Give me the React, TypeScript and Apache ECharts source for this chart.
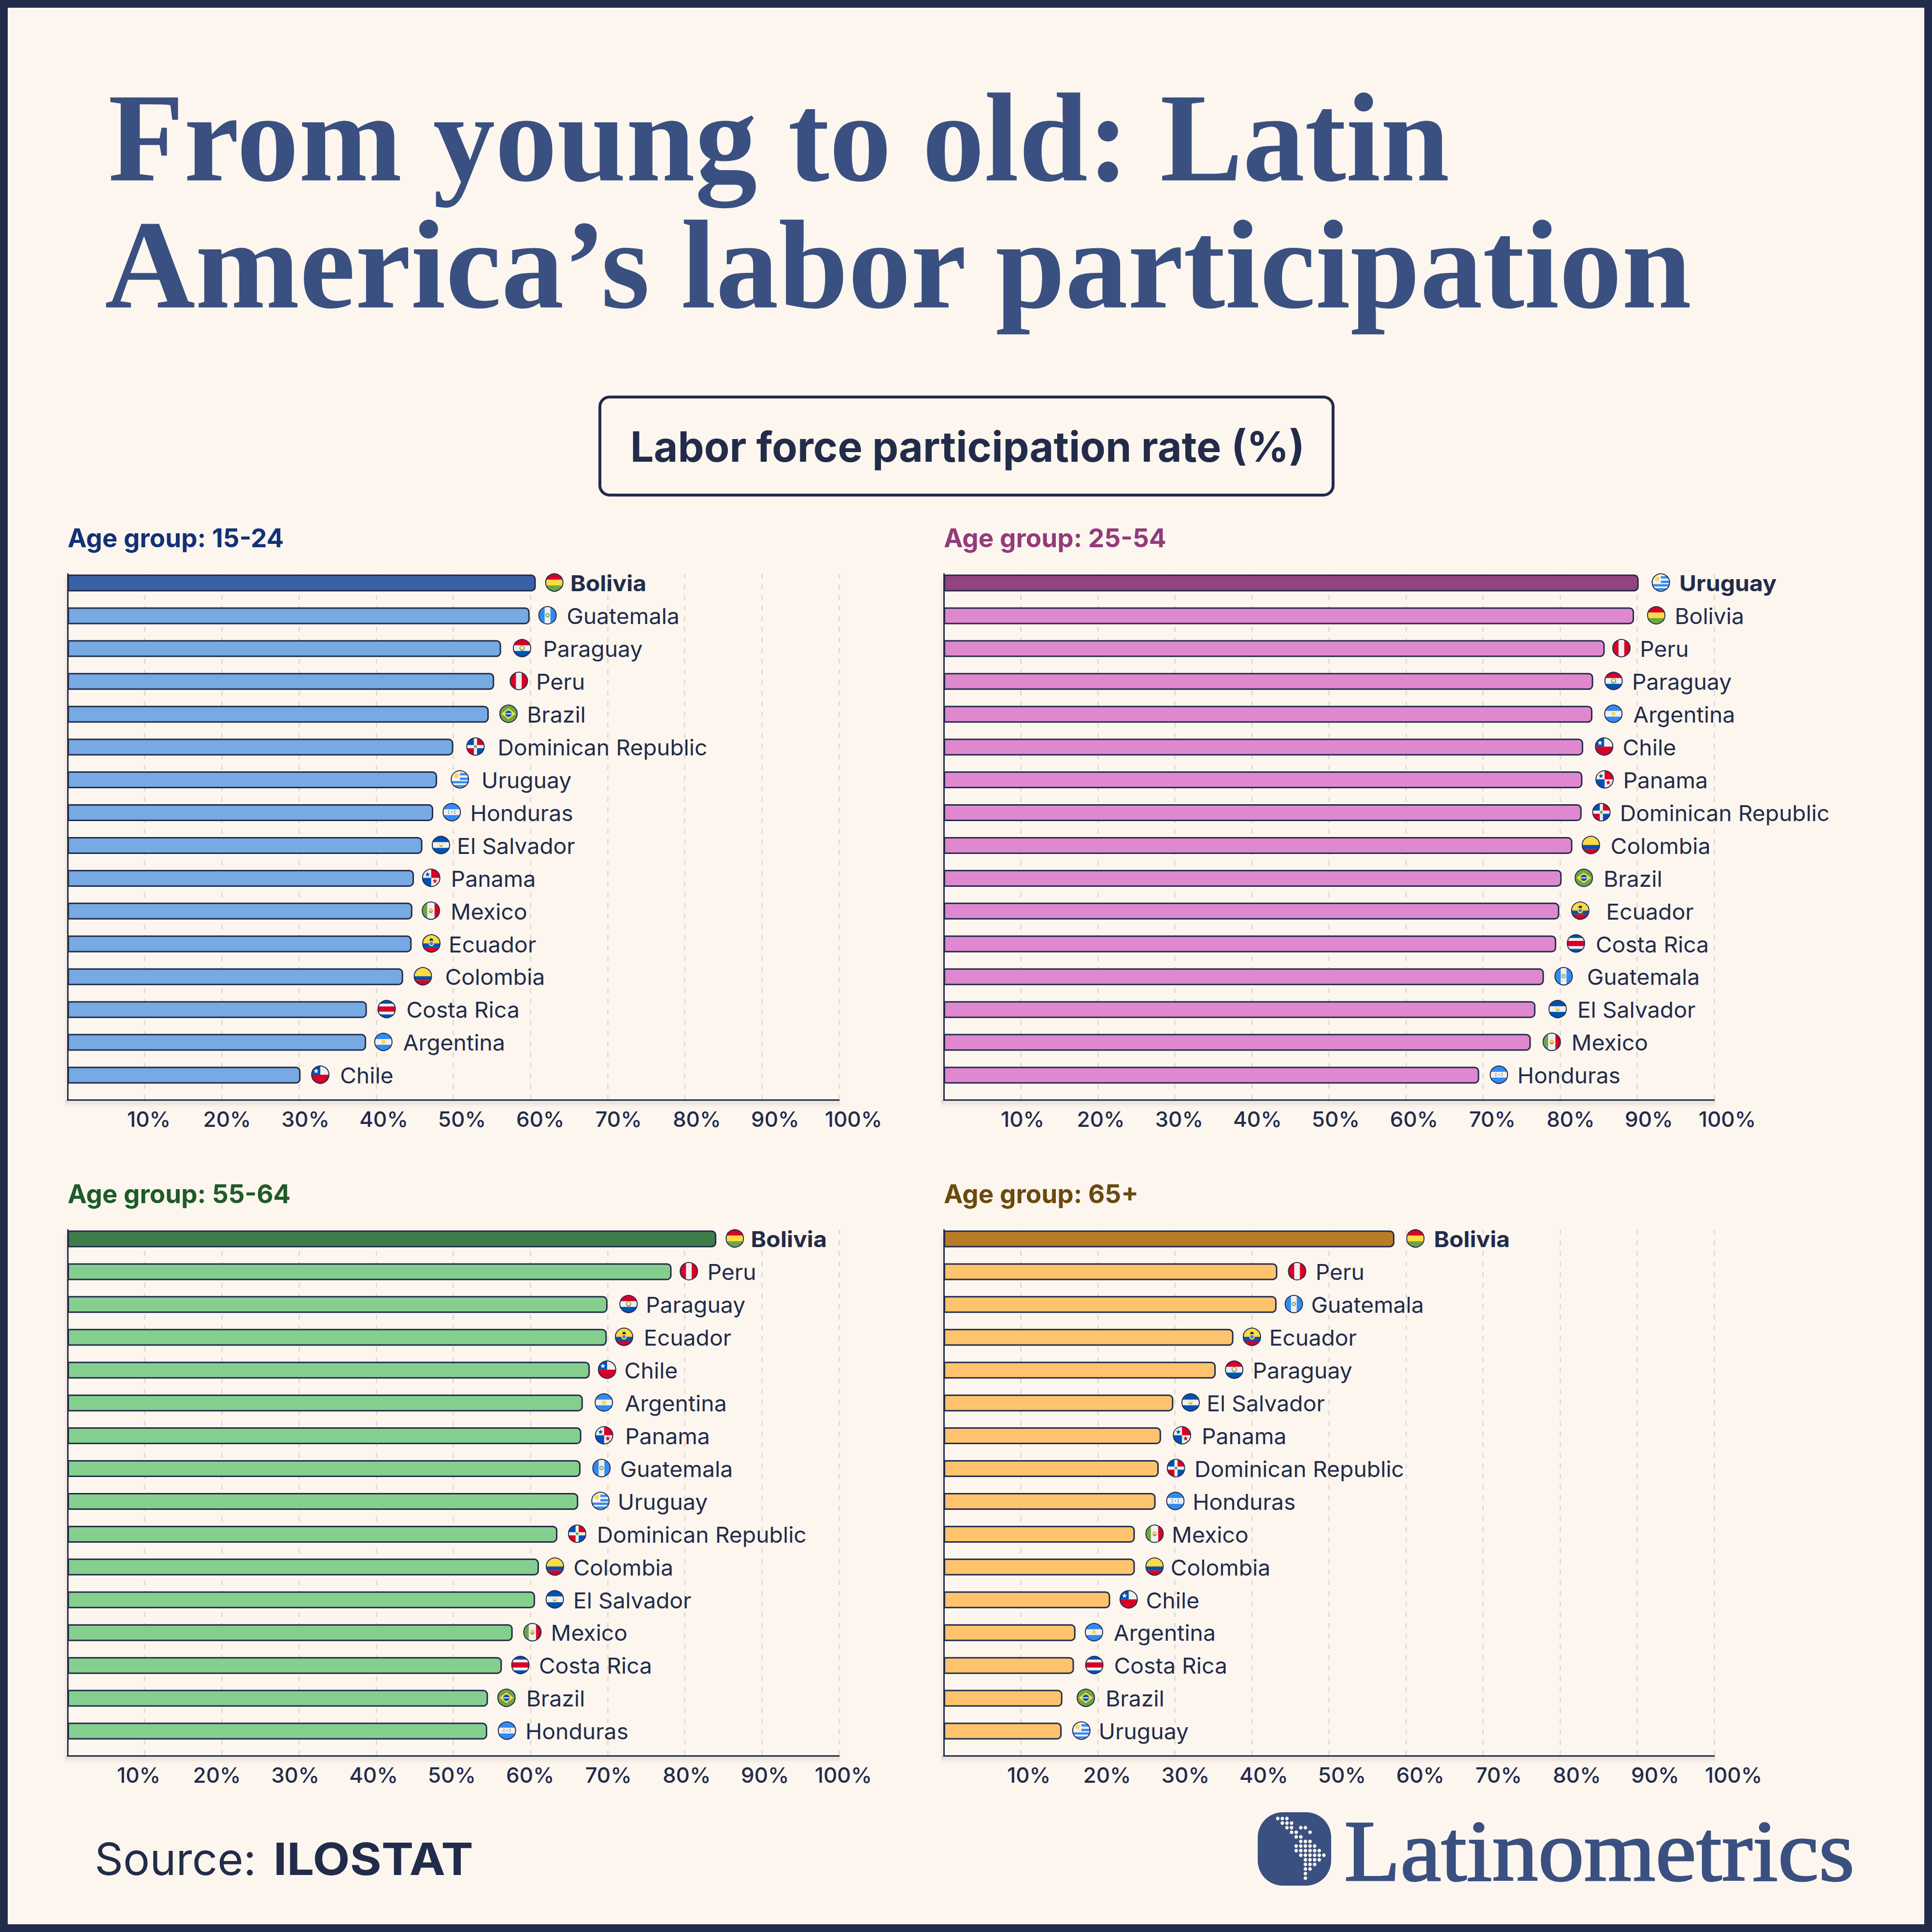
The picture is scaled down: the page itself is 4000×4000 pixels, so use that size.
import React, { useEffect, useRef } from "react";
import * as echarts from "echarts";

// ---------- data ----------
const tickValues = [10, 20, 30, 40, 50, 60, 70, 80, 90, 100];

const names15 = ["Bolivia","Guatemala","Paraguay","Peru","Brazil","Dominican Republic","Uruguay","Honduras","El Salvador","Panama","Mexico","Ecuador","Colombia","Costa Rica","Argentina","Chile"];
const values15 = [60.7,59.9,56.2,55.3,54.6,50.0,47.9,47.4,46.0,44.9,44.7,44.6,43.5,38.8,38.7,30.2];

const names25 = ["Uruguay","Bolivia","Peru","Paraguay","Argentina","Chile","Panama","Dominican Republic","Colombia","Brazil","Ecuador","Costa Rica","Guatemala","El Salvador","Mexico","Honduras"];
const values25 = [90.2,89.6,85.8,84.3,84.2,83.0,82.9,82.8,81.6,80.2,79.9,79.5,77.9,76.8,76.2,69.5];

const names55 = ["Bolivia","Peru","Paraguay","Ecuador","Chile","Argentina","Panama","Guatemala","Uruguay","Dominican Republic","Colombia","El Salvador","Mexico","Costa Rica","Brazil","Honduras"];
const values55 = [84.1,78.3,70.0,69.9,67.7,66.8,66.6,66.5,66.2,63.5,61.1,60.6,57.7,56.3,54.5,54.4];

const names65 = ["Bolivia","Peru","Guatemala","Ecuador","Paraguay","El Salvador","Panama","Dominican Republic","Honduras","Mexico","Colombia","Chile","Argentina","Costa Rica","Brazil","Uruguay"];
const values65 = [58.5,43.3,43.2,37.6,35.3,29.8,28.2,27.9,27.5,24.8,24.8,21.6,17.1,16.9,15.4,15.3];

// ---------- layout (offsets from each bar end) ----------
const U = 2.551;
const flagGap15 = [15,14.5,17,20,16,18,18.5,15,15,14,15,16,16,16,14,16];
const textGap15 = [28,30,34,34,31,36,36,30,28,30,31,30,34,32,30,32];
const flagGap25 = [18,18,13.5,16.5,17,17,18,16,15,18,17,16,16,18,17,16];
const textGap25 = [33,33,28.5,31.5,33,32,33,31,31,34,38,32,35,34,33,31];
const flagGap55 = [15,14,17,14,14,17,18.5,17,18,16,13,16,16,15,15,16];
const textGap55 = [28,29,31,30,28,34,35.5,32,32,32,28,31,31,30,31,31];
const flagGap65 = [17,16,14,15,15,14,17,14,16,16,16,15,15,16.5,19,16];
const textGap65 = [32,31,28,29,30,27,33,29,30,30,29,29,31,32.5,35,30];

const NAVY = "#222c4a";
const TITLE = "#3a5080";
const BG = "#fdf6ef";

const panels = [
  { title: "Age group: 15-24", titleColor: "#133177", names: names15, values: values15, flagGap: flagGap15, textGap: textGap15, dark: "#3a60a8", light: "#77a9e3", left: 140, top: 1188, width: 1597, labelLeft: 146 },
  { title: "Age group: 25-54", titleColor: "#923b7c", names: names25, values: values25, flagGap: flagGap25, textGap: textGap25, dark: "#93437f", light: "#e088cf", left: 1954, top: 1188, width: 1595, labelLeft: 1955 },
  { title: "Age group: 55-64", titleColor: "#1e5b28", names: names55, values: values55, flagGap: flagGap55, textGap: textGap55, dark: "#3e7d4a", light: "#85cf8e", left: 140, top: 2546, width: 1597, labelLeft: 125 },
  { title: "Age group: 65+", titleColor: "#6b4a10", names: names65, values: values65, flagGap: flagGap65, textGap: textGap65, dark: "#b87c26", light: "#fec36c", left: 1954, top: 2546, width: 1595, labelLeft: 1968 },
];

const logoRows = [[0,1,2],[1,2,3],[2,3,5,6],[3,4,7],[4,5],[5,6,7],[4,5,6,7,8],[4,5,6,7,8,9],[5,6,7,8,9,10],[6,7,8,9],[6,7,8],[6,7],[6],[6]];

// ---------- flags: polygons in a unit circle ----------
type P = [number, number];
type Sh = { pts: P[]; fill: string };
const unit: P[] = Array.from({ length: 72 }, (_, i) => [Math.cos((i * Math.PI) / 36), Math.sin((i * Math.PI) / 36)] as P);
function clipHalf(pts: P[], a: number, b: number, c: number): P[] {
  const out: P[] = [];
  for (let i = 0; i < pts.length; i++) {
    const p = pts[i], q = pts[(i + 1) % pts.length];
    const dp = a * p[0] + b * p[1] - c, dq = a * q[0] + b * q[1] - c;
    if (dp <= 0) out.push(p);
    if (dp * dq < 0) {
      const t = dp / (dp - dq);
      out.push([p[0] + t * (q[0] - p[0]), p[1] + t * (q[1] - p[1])]);
    }
  }
  return out;
}
function band(x1: number, y1: number, x2: number, y2: number, fill: string): Sh {
  let pts = clipHalf(unit, -1, 0, -x1);
  pts = clipHalf(pts, 1, 0, x2);
  pts = clipHalf(pts, 0, -1, -y1);
  pts = clipHalf(pts, 0, 1, y2);
  return { pts, fill };
}
const disc = (cx: number, cy: number, r: number, fill: string): Sh => ({ pts: unit.map(([x, y]) => [cx + x * r, cy + y * r] as P), fill });
function star(cx: number, cy: number, r: number, fill: string): Sh {
  const pts: P[] = [];
  for (let i = 0; i < 10; i++) {
    const a = -Math.PI / 2 + (i * Math.PI) / 5, q = i % 2 ? r * 0.42 : r;
    pts.push([cx + q * Math.cos(a), cy + q * Math.sin(a)]);
  }
  return { pts, fill };
}
const RED = "#d80027", WHITE = "#f0f0f0", BLUE = "#0052b4", SKY = "#338af3", GREEN = "#6da544", GOLD = "#ffda44";
const all = (f: string) => band(-1, -1, 1, 1, f);
const hTri = (a: string, b: string, c: string) => [all(b), band(-1, -1, 1, -0.33, a), band(-1, 0.33, 1, 1, c)];
const flags: Record<string, Sh[]> = {
  Bolivia: hTri(RED, GOLD, GREEN),
  Guatemala: [all(WHITE), band(-1, -1, -0.33, 1, SKY), band(0.33, -1, 1, 1, SKY), disc(0, 0, 0.24, GREEN), disc(0, 0, 0.13, WHITE)],
  Paraguay: [...hTri(RED, WHITE, BLUE), disc(0, 0, 0.3, GREEN), disc(0, -0.03, 0.2, WHITE), disc(0, -0.03, 0.07, GOLD)],
  Peru: [all(WHITE), band(-1, -1, -0.33, 1, RED), band(0.33, -1, 1, 1, RED)],
  Brazil: [all(GREEN), { pts: [[-0.82, 0], [0, -0.62], [0.82, 0], [0, 0.62]], fill: GOLD }, disc(0, 0, 0.36, BLUE), band(-0.32, -0.06, 0.32, 0.06, WHITE)],
  "Dominican Republic": [all(WHITE), band(-1, -1, -0.18, -0.18, BLUE), band(0.18, -1, 1, -0.18, RED), band(-1, 0.18, -0.18, 1, RED), band(0.18, 0.18, 1, 1, BLUE), disc(0, 0, 0.17, GREEN)],
  Uruguay: [all(WHITE), band(0, -0.72, 1, -0.46, SKY), band(0, -0.2, 1, 0.06, SKY), band(-1, 0.2, 1, 0.46, SKY), band(-1, 0.66, 1, 0.9, SKY), disc(-0.42, -0.42, 0.26, GOLD)],
  Honduras: [...hTri(SKY, WHITE, SKY), disc(0, 0, 0.07, SKY), disc(-0.35, -0.12, 0.07, SKY), disc(0.35, -0.12, 0.07, SKY), disc(-0.35, 0.12, 0.07, SKY), disc(0.35, 0.12, 0.07, SKY)],
  "El Salvador": [...hTri(BLUE, WHITE, BLUE), band(-0.24, -0.2, 0.24, 0.2, GOLD), band(-0.1, -0.2, 0.1, 0.02, WHITE), band(-0.12, 0.08, 0.12, 0.2, GREEN)],
  Panama: [all(WHITE), band(0, -1, 1, 0, RED), band(-1, 0, 0, 1, BLUE), star(-0.42, -0.38, 0.3, BLUE), star(0.42, 0.38, 0.3, RED)],
  Mexico: [all(WHITE), band(-1, -1, -0.42, 1, GREEN), band(0.42, -1, 1, 1, RED), disc(0, 0.06, 0.22, GREEN), disc(0, -0.05, 0.2, "#ff9811"), band(-0.12, -0.12, 0.12, 0.04, WHITE)],
  Ecuador: [all(GOLD), band(-1, 0, 1, 0.46, BLUE), band(-1, 0.46, 1, 1, RED), disc(0, -0.38, 0.2, NAVY), disc(0, 0, 0.32, GOLD), disc(0, 0, 0.2, SKY)],
  Colombia: [all(GOLD), band(-1, 0, 1, 0.46, BLUE), band(-1, 0.46, 1, 1, RED)],
  "Costa Rica": [all(WHITE), band(-1, -1, 1, -0.62, BLUE), band(-1, -0.3, 1, 0.3, RED), band(-1, 0.62, 1, 1, BLUE)],
  Argentina: [...hTri(SKY, WHITE, SKY), disc(0, 0, 0.24, GOLD)],
  Chile: [all(WHITE), band(-1, 0, 1, 1, RED), band(-1, -1, 0, 0, BLUE), star(-0.48, -0.42, 0.32, WHITE)],
};

// ---------- option ----------
function buildOption() {
  const grid: any[] = [], xAxis: any[] = [], yAxis: any[] = [], series: any[] = [], graphic: any[] = [];
  const HEIGHT = 1089, BAND_TOP = -15, BAND_H = 1087;
  const fadeDown = new echarts.graphic.LinearGradient(0, 0, 0, 1, [
    { offset: 0, color: "rgba(80,60,40,0.13)" },
    { offset: 1, color: "rgba(80,60,40,0)" },
  ]);
  const fadeLeft = new echarts.graphic.LinearGradient(1, 0, 0, 0, [
    { offset: 0, color: "rgba(80,60,40,0.08)" },
    { offset: 1, color: "rgba(80,60,40,0)" },
  ]);
  panels.forEach((p) => {
    graphic.push(
      { type: "rect", shape: { x: p.left - 5, y: p.top + HEIGHT + 1, width: p.width + 8, height: 16 }, style: { fill: fadeDown } },
      { type: "rect", shape: { x: p.left - 9, y: p.top + 8, width: 8, height: HEIGHT }, style: { fill: fadeLeft } }
    );
    const gF = grid.length;
    grid.push({ left: p.left, top: p.top, width: p.width, height: HEIGHT });
    xAxis.push({
      gridIndex: gF, type: "value", min: 0, max: 100, interval: 10,
      axisLine: { show: true, lineStyle: { color: NAVY, width: 3 } },
      axisTick: { show: false }, axisLabel: { show: false },
      splitLine: { show: true, lineStyle: { color: "#e2dad3", width: 3, type: [10, 12] } },
    });
    yAxis.push({
      gridIndex: gF, type: "value", min: 0, max: 1,
      axisLine: { show: true, onZero: false, lineStyle: { color: NAVY, width: 3 } },
      axisTick: { show: false }, axisLabel: { show: false }, splitLine: { show: false },
    });

    const gB = grid.length;
    grid.push({ left: p.left, top: p.top + BAND_TOP, width: p.width, height: BAND_H });
    xAxis.push({ gridIndex: gB, type: "value", min: 0, max: 100, show: false });
    yAxis.push({ gridIndex: gB, type: "category", inverse: true, data: p.names, show: false });
    series.push({
      type: "bar", xAxisIndex: gB, yAxisIndex: gB, barWidth: 35, silent: true, z: 3,
      data: p.values.map((v, k) => ({
        value: v,
        itemStyle: { color: k === 0 ? p.dark : p.light, borderColor: NAVY, borderWidth: 3, borderRadius: [0, 8, 8, 0] },
      })),
    });
    series.push({
      type: "custom", xAxisIndex: gB, yAxisIndex: gB, z: 4, silent: true,
      encode: { x: 0, y: 1 },
      data: p.values.map((v, k) => [v, k]),
      renderItem: (params: any, api: any) => {
        const k = params.dataIndex;
        const c = api.coord([api.value(0), api.value(1)]);
        const name = p.names[k];
        const R = 18;
        return {
          type: "group",
          children: [
            {
              type: "group", x: c[0] + p.flagGap[k] * U, y: c[1] - 1,
              children: [
                ...flags[name].map((s) => ({
                  type: "polygon",
                  shape: { points: s.pts.map(([x, y]) => [x * R, y * R]) },
                  style: { fill: s.fill },
                })),
                { type: "circle", shape: { cx: 0, cy: 0, r: R }, style: { fill: "none", stroke: NAVY, lineWidth: 2 } },
              ],
            },
            {
              type: "text", x: c[0] + p.textGap[k] * U, y: c[1] + 1, scaleX: k === 0 ? 1.07 : 1.03,
              style: {
                text: name, fill: NAVY, fontFamily: "Inter", fontSize: 45,
                fontWeight: k === 0 ? 700 : 400, align: "left", verticalAlign: "middle",
              },
            },
          ],
        };
      },
    });

    const gL = grid.length;
    grid.push({ left: p.labelLeft, top: p.top + HEIGHT - 1, width: 1621, height: 1 });
    xAxis.push({
      gridIndex: gL, type: "value", min: 0, max: tickValues[tickValues.length - 1], interval: tickValues[0],
      axisLine: { show: false }, axisTick: { show: false }, splitLine: { show: false },
      axisLabel: {
        show: true, showMinLabel: false, margin: 18, color: NAVY, fontFamily: "Inter", fontSize: 44, fontWeight: 500,
        formatter: (v: number) => `${v}%`,
      },
    });
    yAxis.push({ gridIndex: gL, type: "value", show: false });

    graphic.push({
      type: "text", x: p.left, y: p.top - 74,
      style: { text: p.title, fill: p.titleColor, fontFamily: "Inter", fontSize: 53, fontWeight: 700, align: "left", verticalAlign: "middle" },
    });
  });

  const serif = "Liberation Serif";
  graphic.push(
    { type: "rect", shape: { x: 8, y: 8, width: 3984, height: 3984 }, style: { fill: "none", stroke: NAVY, lineWidth: 16 } },
    { type: "text", x: 224, y: 285, scaleX: 0.98, style: { text: "From young to old: Latin", fill: TITLE, fontFamily: serif, fontWeight: 700, fontSize: 262, align: "left", verticalAlign: "middle" } },
    { type: "text", x: 217, y: 548, scaleX: 0.99, style: { text: "America’s labor participation", fill: TITLE, fontFamily: serif, fontWeight: 700, fontSize: 262, align: "left", verticalAlign: "middle" } },
    { type: "rect", shape: { x: 1242, y: 822, width: 1518, height: 203, r: 20 }, style: { fill: "none", stroke: NAVY, lineWidth: 6 } },
    { type: "text", x: 2003, y: 925, style: { text: "Labor force participation rate (%)", fill: NAVY, fontFamily: "Inter", fontSize: 86, fontWeight: 700, align: "center", verticalAlign: "middle" } },
    { type: "text", x: 196, y: 3848, style: { text: "Source:", fill: NAVY, fontFamily: "Inter", fontSize: 92, fontWeight: 400, align: "left", verticalAlign: "middle" } },
    { type: "text", x: 566, y: 3848, scaleX: 1.085, style: { text: "ILOSTAT", fill: NAVY, fontFamily: "Inter", fontSize: 92, fontWeight: 700, align: "left", verticalAlign: "middle" } },
    { type: "rect", shape: { x: 2604, y: 3752, width: 152, height: 152, r: 52 }, style: { fill: TITLE } },
    { type: "text", x: 2783, y: 3832, scaleX: 1.057, style: { text: "Latinometrics", fill: TITLE, stroke: TITLE, lineWidth: 3, fontFamily: serif, fontSize: 180, fontWeight: 400, align: "left", verticalAlign: "middle" } }
  );
  logoRows.forEach((cols, r) =>
    cols.forEach((c) =>
      graphic.push({ type: "circle", shape: { cx: 2645.4 + c * 9.55, cy: 3765 + r * 9.5, r: 3.7 }, style: { fill: BG } })
    )
  );

  return { animation: false, backgroundColor: BG, grid, xAxis, yAxis, series, graphic };
}

export default function App() {
  const ref = useRef<HTMLDivElement>(null);
  useEffect(() => {
    document.body.style.margin = "0";
    const chart = echarts.init(ref.current!, undefined, { renderer: "svg" });
    chart.setOption(buildOption() as any);
    return () => chart.dispose();
  }, []);
  return <div ref={ref} style={{ position: "absolute", left: 0, top: 0, width: 4000, height: 4000 }} />;
}
